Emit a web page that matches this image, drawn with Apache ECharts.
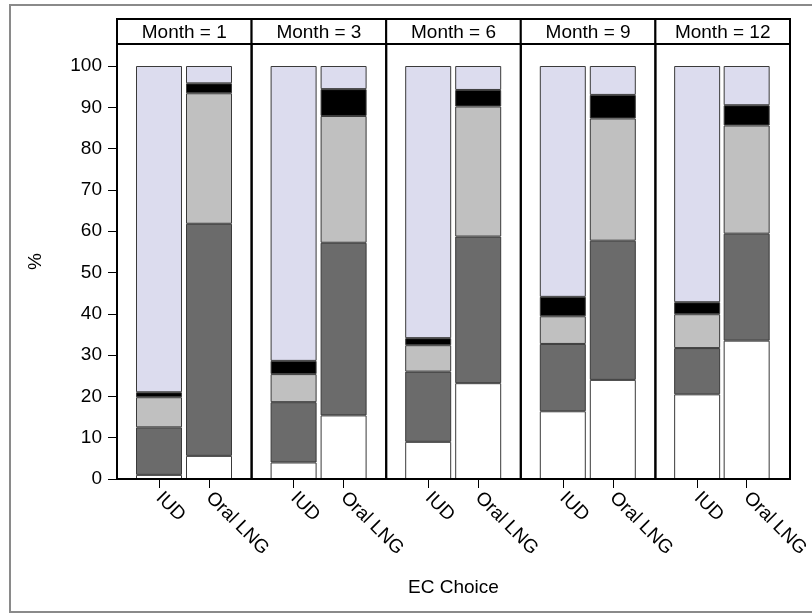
<!DOCTYPE html>
<html>
<head>
<meta charset="utf-8">
<script src="https://cdn.jsdelivr.net/npm/echarts@6/dist/echarts.min.js"></script>
<style>
  html, body { margin: 0; padding: 0; background: #fff; }
  #chart { width: 812px; height: 614px; }
</style>
</head>
<body>
<div id="chart"></div>
<script>
// Follow-up months (one panel each) and the two EC choices within a panel
const months = [1, 3, 6, 9, 12];
const choices = ['IUD', 'Oral LNG'];
const yTicks = [0, 10, 20, 30, 40, 50, 60, 70, 80, 90, 100];

// Percent of each group per response level, stacked bottom to top, by month
const iudLevel1 = [1.0, 4.0, 9.0, 16.4, 20.5];
const iudLevel2 = [11.5, 14.6, 17.0, 16.3, 11.2];
const iudLevel3 = [7.3, 6.8, 6.4, 6.7, 8.2];
const iudLevel4 = [1.2, 3.2, 1.7, 4.7, 2.9];
const iudLevel5 = [79.0, 71.4, 65.9, 55.9, 57.2];

const oralLevel1 = [5.6, 15.4, 23.2, 24.0, 33.5];
const oralLevel2 = [56.2, 41.8, 35.5, 33.7, 25.9];
const oralLevel3 = [31.6, 30.7, 31.5, 29.6, 26.2];
const oralLevel4 = [2.4, 6.5, 4.0, 5.7, 4.9];
const oralLevel5 = [4.2, 5.6, 5.8, 7.0, 9.5];

const levelColors = ['#ffffff', '#6b6b6b', '#c0c0c0', '#000000', '#dcdcee'];
const iudLevels = [iudLevel1, iudLevel2, iudLevel3, iudLevel4, iudLevel5];
const oralLevels = [oralLevel1, oralLevel2, oralLevel3, oralLevel4, oralLevel5];

// Panel layout
const FONT = 'Liberation Sans, Arial, sans-serif';
const FS = 19;
const panelX0 = 117, panelX1 = 790;
const panelW = (panelX1 - panelX0) / months.length;
const headerTop = 19, headerH = 25;
const frameTop = 44, zeroY = 479, fullY = 66;
const H = 614;

const grids = [], xAxes = [], yAxes = [], series = [], graphics = [];

months.forEach((m, i) => {
  const px = panelX0 + i * panelW;
  grids.push({ left: px + 17, width: 100, top: fullY, bottom: H - zeroY, containLabel: false });
  xAxes.push({
    type: 'category', gridIndex: i, data: choices,
    axisLine: { show: false },
    axisTick: { show: true, alignWithLabel: true, length: 9, lineStyle: { color: '#000', width: 1 } },
    axisLabel: { rotate: -45, margin: 16, fontSize: FS, fontFamily: FONT, color: '#000' }
  });
  yAxes.push({
    type: 'value', gridIndex: i, min: 0, max: 100, interval: 10,
    show: i === 0, offset: 17,
    splitLine: { show: false },
    axisLine: { show: true, lineStyle: { color: '#000', width: 1 } },
    axisTick: { show: true, length: 9, lineStyle: { color: '#000' }, customValues: yTicks },
    axisLabel: { fontSize: FS, fontFamily: FONT, color: '#000', margin: 15, customValues: yTicks }
  });
  levelColors.forEach((c, s) => {
    series.push({
      type: 'bar', xAxisIndex: i, yAxisIndex: i, stack: 'panel' + i,
      barWidth: 46,
      data: [iudLevels[s][i], oralLevels[s][i]],
      itemStyle: { color: c, borderColor: '#3a3a3a', borderWidth: 1 },
      silent: true
    });
  });
  // panel frame and strip header
  graphics.push({
    type: 'rect', shape: { x: px, y: frameTop, width: panelW, height: zeroY - frameTop },
    style: { fill: 'none', stroke: '#000', lineWidth: 2 }, z: 10
  });
  graphics.push({
    type: 'rect', shape: { x: px, y: headerTop, width: panelW, height: headerH },
    style: { fill: '#fff', stroke: '#000', lineWidth: 2 }, z: 10
  });
  graphics.push({
    type: 'text', x: px + panelW / 2, y: headerTop + headerH / 2 + 1,
    style: { text: 'Month = ' + m, fill: '#000', font: FS + 'px ' + FONT, textAlign: 'center', textVerticalAlign: 'middle' },
    z: 11
  });
});

// outer border
graphics.push({
  type: 'rect', shape: { x: 10, y: 5, width: 812, height: 607 },
  style: { fill: 'none', stroke: '#8a8a8a', lineWidth: 2 }, z: 1
});
// axis titles
graphics.push({
  type: 'text', x: (panelX0 + panelX1) / 2, y: 588,
  style: { text: 'EC Choice', fill: '#000', font: FS + 'px ' + FONT, textAlign: 'center', textVerticalAlign: 'middle' }
});
graphics.push({
  type: 'text', x: 36, y: (frameTop + zeroY) / 2, rotation: Math.PI / 2,
  style: { text: '%', fill: '#000', font: FS + 'px ' + FONT, textAlign: 'center', textVerticalAlign: 'middle' }
});

const chart = echarts.init(document.getElementById('chart'), null, { renderer: 'canvas' });
chart.setOption({
  animation: false,
  backgroundColor: '#fff',
  grid: grids,
  xAxis: xAxes,
  yAxis: yAxes,
  series: series,
  graphic: graphics
});
</script>
</body>
</html>
